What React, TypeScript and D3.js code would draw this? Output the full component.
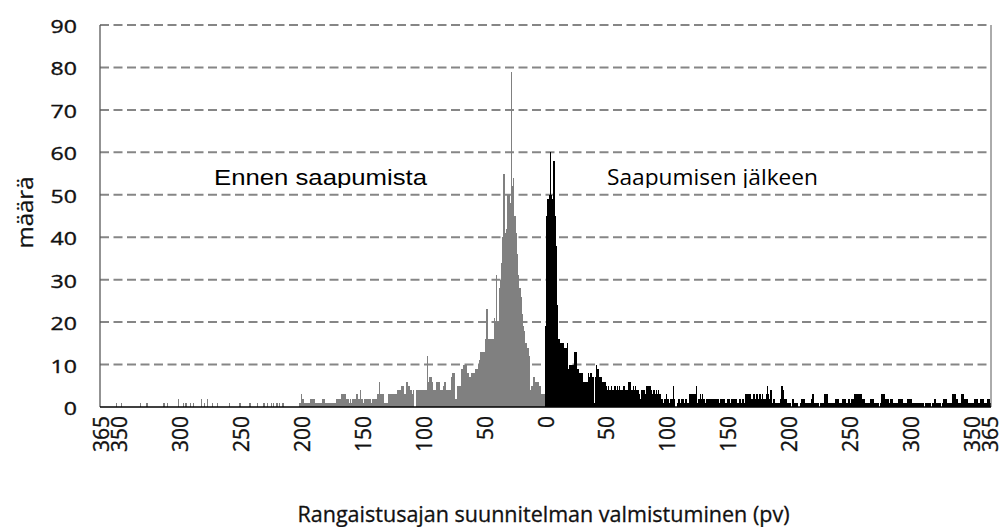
import React, { useEffect, useRef } from 'react';
import * as d3 from 'd3';

// counts per day, -365 .. -1
const beforeCounts = [
  0, 0, 0, 0, 0, 0, 0, 0, 0, 0,
  0, 0, 0, 1, 0, 0, 0, 1, 0, 0,
  0, 0, 0, 0, 0, 0, 0, 0, 0, 0,
  0, 0, 0, 1, 0, 0, 0, 0, 1, 0,
  0, 0, 0, 0, 0, 0, 0, 0, 0, 0,
  0, 0, 1, 0, 0, 1, 0, 0, 0, 0,
  0, 0, 0, 0, 2, 0, 0, 0, 1, 0,
  1, 0, 0, 0, 1, 0, 1, 0, 0, 0,
  0, 0, 0, 2, 0, 1, 0, 0, 2, 0,
  0, 0, 1, 0, 0, 0, 1, 0, 0, 0,
  0, 0, 0, 0, 0, 0, 1, 0, 0, 0,
  0, 0, 0, 0, 1, 1, 0, 0, 0, 0,
  0, 0, 1, 1, 0, 0, 0, 0, 0, 1,
  0, 0, 0, 0, 1, 0, 0, 1, 0, 0,
  1, 0, 1, 0, 1, 1, 0, 1, 0, 1,
  1, 0, 0, 0, 0, 0, 0, 0, 0, 0,
  0, 0, 0, 1, 1, 3, 2, 1, 1, 1,
  1, 1, 2, 2, 2, 2, 1, 1, 1, 1,
  1, 1, 2, 2, 2, 1, 1, 1, 1, 1,
  1, 1, 1, 1, 2, 2, 2, 2, 3, 3,
  3, 3, 2, 2, 1, 2, 1, 2, 2, 2,
  3, 3, 2, 4, 2, 2, 1, 2, 2, 2,
  2, 2, 1, 2, 2, 2, 2, 3, 3, 6,
  3, 3, 3, 1, 1, 1, 3, 3, 3, 3,
  3, 3, 3, 3, 4, 4, 4, 5, 5, 3,
  3, 6, 6, 5, 4, 4, 3, 4, 0, 4,
  4, 4, 4, 4, 4, 4, 4, 4, 12, 6,
  7, 7, 6, 4, 4, 4, 6, 6, 6, 4,
  4, 5, 6, 6, 4, 4, 4, 4, 7, 8,
  8, 2, 2, 5, 5, 5, 9, 9, 10, 10,
  10, 8, 8, 7, 8, 8, 8, 8, 9, 9,
  10, 11, 13, 13, 13, 13, 16, 23, 16, 16,
  16, 16, 16, 21, 20, 31, 20, 28, 30, 34,
  40, 55, 41, 42, 50, 50, 48, 79, 52, 54,
  45, 41, 36, 31, 28, 26, 22, 19, 18, 15,
  14, 14, 12, 4, 5, 7, 7, 6, 6, 6,
  5, 5, 3, 3, 3,
];

// counts per day, 0 .. 365
const afterCounts = [
  19, 45, 49, 50, 60, 50, 49, 58, 45, 38,
  24, 16, 15, 15, 15, 15, 14, 14, 15, 9,
  10, 10, 10, 10, 13, 13, 9, 9, 8, 8,
  8, 6, 6, 6, 6, 8, 7, 8, 8, 7,
  1, 7, 10, 9, 7, 7, 7, 6, 6, 6,
  5, 4, 5, 4, 5, 4, 4, 5, 4, 5,
  4, 5, 4, 4, 5, 5, 4, 4, 6, 6,
  6, 4, 5, 4, 5, 4, 4, 3, 2, 4,
  4, 4, 3, 5, 5, 5, 5, 4, 3, 4,
  3, 4, 3, 4, 3, 2, 2, 1, 2, 3,
  2, 2, 1, 2, 2, 5, 2, 0, 1, 2,
  2, 1, 2, 2, 1, 2, 2, 1, 3, 3,
  3, 3, 3, 3, 5, 1, 2, 3, 2, 3,
  2, 1, 2, 2, 2, 2, 2, 2, 2, 2,
  2, 2, 2, 1, 2, 2, 2, 2, 1, 2,
  2, 2, 1, 2, 2, 2, 2, 2, 1, 2,
  2, 1, 2, 1, 3, 3, 3, 3, 3, 2,
  2, 3, 2, 3, 3, 2, 3, 2, 3, 2,
  2, 3, 5, 3, 2, 4, 1, 2, 2, 1,
  1, 1, 1, 2, 5, 4, 2, 2, 2, 1,
  1, 1, 0, 2, 1, 1, 1, 1, 0, 1,
  2, 2, 2, 1, 1, 1, 1, 1, 2, 3,
  3, 1, 1, 1, 1, 0, 1, 1, 1, 3,
  3, 3, 1, 1, 1, 1, 1, 1, 2, 2,
  2, 1, 1, 1, 2, 2, 2, 1, 1, 2,
  1, 2, 2, 2, 3, 3, 3, 3, 3, 3,
  2, 2, 2, 1, 1, 1, 1, 2, 2, 2,
  1, 1, 1, 1, 0, 1, 3, 3, 3, 2,
  2, 2, 1, 2, 2, 2, 1, 1, 1, 1,
  2, 2, 2, 2, 1, 1, 1, 2, 2, 2,
  2, 1, 1, 1, 1, 1, 1, 1, 1, 1,
  1, 0, 1, 1, 1, 1, 1, 0, 1, 2,
  2, 1, 1, 1, 1, 0, 1, 2, 2, 2,
  1, 1, 1, 1, 3, 3, 3, 2, 2, 1,
  1, 3, 3, 3, 2, 2, 2, 1, 1, 1,
  1, 1, 2, 2, 2, 1, 1, 2, 2, 2,
  1, 1, 1, 2, 2, 1,
];

const xTickDays = [-365, -350, -300, -250, -200, -150, -100, -50, 0, 50, 100, 150, 200, 250, 300, 350, 365];
const yTickValues = [0, 10, 20, 30, 40, 50, 60, 70, 80, 90];

const beforeLabel = 'Ennen saapumista';
const afterLabel = 'Saapumisen jälkeen';
const yTitle = 'määrä';
const xTitle = 'Rangaistusajan suunnitelman valmistuminen (pv)';

const width = 1003;
const height = 527;
const plot = { left: 100, right: 991, top: 25, bottom: 407 };
const font = '"Open Sans", sans-serif';

function App() {
  const ref = useRef<SVGSVGElement>(null);

  useEffect(() => {
    const svg = d3.select(ref.current);
    svg.selectAll('*').remove();

    const x = d3.scaleLinear().domain([-365.5, 365.5]).range([plot.left, plot.right]);
    const y = d3.scaleLinear().domain([0, 90]).range([plot.bottom, plot.top]);

    // dashed gridlines
    svg.append('g')
      .selectAll('line')
      .data(yTickValues.filter((v) => v > 0))
      .enter()
      .append('line')
      .attr('x1', plot.left)
      .attr('x2', plot.right)
      .attr('y1', (d) => y(d))
      .attr('y2', (d) => y(d))
      .attr('stroke', '#868686')
      .attr('stroke-width', 2)
      .attr('stroke-dasharray', '9,4.5');

    const bars = [
      ...beforeCounts.map((v, i) => ({ day: i - 365, value: v, color: '#808080' })),
      ...afterCounts.map((v, i) => ({ day: i, value: v, color: '#000000' })),
    ].filter((d) => d.value > 0);

    svg.append('g')
      .attr('shape-rendering', 'crispEdges')
      .selectAll('rect')
      .data(bars)
      .enter()
      .append('rect')
      .attr('x', (d) => x(d.day - 0.5))
      .attr('width', (d) => x(d.day + 0.5) - x(d.day - 0.5))
      .attr('y', (d) => y(d.value))
      .attr('height', (d) => y(0) - y(d.value))
      .attr('fill', (d) => d.color);

    // axes lines
    svg.append('line')
      .attr('x1', plot.left).attr('x2', plot.left)
      .attr('y1', plot.top).attr('y2', plot.bottom)
      .attr('stroke', '#595959').attr('stroke-width', 1.3);
    svg.append('line')
      .attr('x1', plot.right).attr('x2', plot.right)
      .attr('y1', plot.top).attr('y2', plot.bottom)
      .attr('stroke', '#595959').attr('stroke-width', 1);
    svg.append('line')
      .attr('x1', plot.left).attr('x2', plot.right)
      .attr('y1', plot.bottom).attr('y2', plot.bottom)
      .attr('stroke', '#000').attr('stroke-width', 1.5);

    // y tick labels
    svg.append('g')
      .selectAll('text')
      .data(yTickValues)
      .enter()
      .append('text')
      .attr('x', 77)
      .attr('y', (d) => y(d) + 1)
      .attr('text-anchor', 'end')
      .attr('dominant-baseline', 'central')
      .attr('textLength', (d) => String(d).length * 13.2)
      .attr('lengthAdjust', 'spacingAndGlyphs')
      .style('font-family', font)
      .style('font-size', '18px')
      .attr('fill', '#111')
      .attr('stroke', '#111')
      .attr('stroke-width', 0.35)
      .text((d) => d);

    // x tick labels, rotated
    svg.append('g')
      .selectAll('text')
      .data(xTickDays)
      .enter()
      .append('text')
      .attr('transform', (d) => `translate(${x(d)}, 416) rotate(-90)`)
      .attr('text-anchor', 'end')
      .attr('dominant-baseline', 'central')
      .style('font-family', font)
      .style('font-size', '21px')
      .attr('fill', '#111')
      .attr('stroke', '#111')
      .attr('stroke-width', 0.35)
      .text((d) => Math.abs(d));

    // axis titles
    svg.append('text')
      .attr('transform', 'translate(33, 212.5) rotate(-90)')
      .attr('text-anchor', 'middle')
      .attr('textLength', 72)
      .attr('lengthAdjust', 'spacingAndGlyphs')
      .style('font-family', font)
      .style('font-size', '22px')
      .attr('fill', '#111')
      .attr('stroke', '#111')
      .attr('stroke-width', 0.3)
      .text(yTitle);

    svg.append('text')
      .attr('x', 543.5)
      .attr('y', 522)
      .attr('text-anchor', 'middle')
      .attr('textLength', 492)
      .attr('lengthAdjust', 'spacingAndGlyphs')
      .style('font-family', font)
      .style('font-size', '21.5px')
      .attr('fill', '#111')
      .attr('stroke', '#111')
      .attr('stroke-width', 0.3)
      .text(xTitle);

    // in-plot labels, cut off just below the baseline
    svg.append('clipPath')
      .attr('id', 'label-clip')
      .append('rect')
      .attr('x', 0).attr('y', 0)
      .attr('width', width).attr('height', 188);

    const labels = svg.append('g').attr('clip-path', 'url(#label-clip)');
    labels.append('text')
      .attr('x', 214)
      .attr('y', 185)
      .attr('textLength', 213)
      .attr('lengthAdjust', 'spacingAndGlyphs')
      .style('font-family', '"Liberation Sans", Arial, sans-serif')
      .style('font-size', '22px')
      .attr('fill', '#000')
      .text(beforeLabel);
    labels.append('text')
      .attr('x', 607)
      .attr('y', 185)
      .attr('textLength', 211)
      .attr('lengthAdjust', 'spacingAndGlyphs')
      .style('font-family', font)
      .style('font-size', '22px')
      .attr('fill', '#000')
      .text(afterLabel);
  }, []);

  return (
    <svg
      ref={ref}
      width={width}
      height={height}
      style={{ position: 'absolute', left: 0, top: 0, background: '#fff' }}
    />
  );
}

export default App;
